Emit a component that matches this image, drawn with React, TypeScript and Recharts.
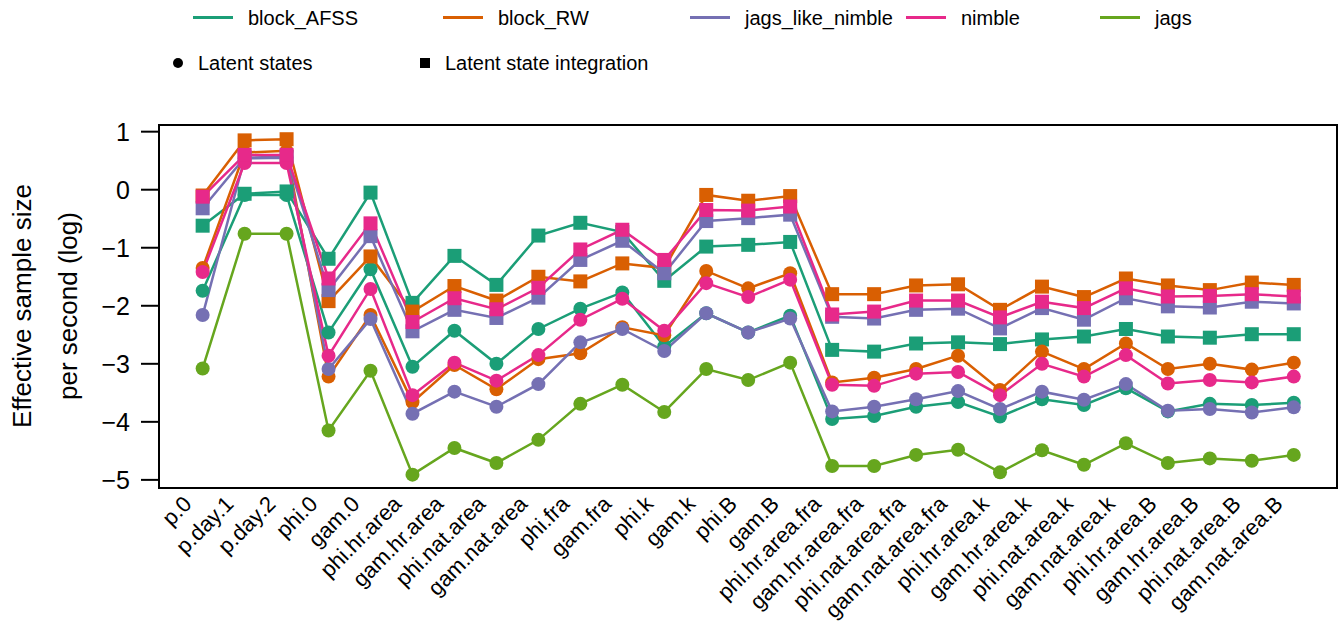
import React from 'react';
import { LineChart, Line, XAxis, YAxis, ReferenceArea } from 'recharts';

// parameters on the x axis
const categories = [
  'p.0', 'p.day.1', 'p.day.2', 'phi.0', 'gam.0', 'phi.hr.area', 'gam.hr.area',
  'phi.nat.area', 'gam.nat.area', 'phi.fra', 'gam.fra', 'phi.k', 'gam.k', 'phi.B',
  'gam.B', 'phi.hr.area.fra', 'gam.hr.area.fra', 'phi.nat.area.fra', 'gam.nat.area.fra',
  'phi.hr.area.k', 'gam.hr.area.k', 'phi.nat.area.k', 'gam.nat.area.k',
  'phi.hr.area.B', 'gam.hr.area.B', 'phi.nat.area.B', 'gam.nat.area.B',
];

// log ESS per second, "Latent states" (circles)
const afssLatent = [-1.74, -0.09, -0.09, -2.46, -1.37, -3.05, -2.43, -3.0, -2.4, -2.05, -1.77, -2.7, -2.13, -2.46, -2.17, -3.95, -3.9, -3.74, -3.66, -3.91, -3.61, -3.71, -3.42, -3.82, -3.69, -3.71, -3.67];
const rwLatent = [-1.35, 0.64, 0.67, -3.22, -2.16, -3.66, -3.02, -3.44, -2.92, -2.82, -2.37, -2.51, -1.4, -1.7, -1.44, -3.32, -3.24, -3.09, -2.86, -3.45, -2.79, -3.09, -2.65, -3.09, -3.0, -3.1, -2.98];
const jlnLatent = [-2.16, 0.54, 0.55, -3.09, -2.23, -3.86, -3.48, -3.74, -3.35, -2.63, -2.4, -2.78, -2.13, -2.46, -2.22, -3.82, -3.74, -3.61, -3.47, -3.78, -3.48, -3.62, -3.35, -3.81, -3.78, -3.84, -3.75];
const nimbleLatent = [-1.42, 0.46, 0.46, -2.86, -1.71, -3.54, -2.98, -3.29, -2.85, -2.24, -1.88, -2.43, -1.61, -1.85, -1.55, -3.36, -3.38, -3.17, -3.14, -3.54, -3.0, -3.22, -2.85, -3.34, -3.28, -3.32, -3.22];
const jagsLatent = [-3.08, -0.76, -0.76, -4.15, -3.12, -4.91, -4.45, -4.71, -4.31, -3.69, -3.36, -3.83, -3.09, -3.28, -2.98, -4.76, -4.76, -4.57, -4.48, -4.87, -4.49, -4.74, -4.37, -4.71, -4.63, -4.67, -4.57];

// "Latent state integration" (squares)
const afssInteg = [-0.62, -0.07, -0.03, -1.19, -0.05, -1.95, -1.14, -1.64, -0.79, -0.57, -0.73, -1.57, -0.98, -0.95, -0.9, -2.76, -2.79, -2.65, -2.63, -2.66, -2.58, -2.53, -2.4, -2.53, -2.55, -2.49, -2.49];
const rwInteg = [-0.1, 0.85, 0.87, -1.92, -1.15, -2.1, -1.66, -1.91, -1.5, -1.58, -1.27, -1.35, -0.09, -0.19, -0.11, -1.8, -1.8, -1.65, -1.63, -2.07, -1.67, -1.85, -1.53, -1.65, -1.73, -1.6, -1.64];
const jlnInteg = [-0.32, 0.55, 0.57, -1.73, -0.8, -2.44, -2.07, -2.21, -1.86, -1.21, -0.88, -1.44, -0.54, -0.49, -0.43, -2.19, -2.22, -2.07, -2.05, -2.39, -2.04, -2.24, -1.87, -2.01, -2.03, -1.93, -1.96];
const nimbleInteg = [-0.12, 0.6, 0.6, -1.53, -0.58, -2.28, -1.87, -2.06, -1.69, -1.03, -0.69, -1.21, -0.35, -0.36, -0.29, -2.15, -2.1, -1.91, -1.91, -2.2, -1.93, -2.04, -1.7, -1.84, -1.83, -1.8, -1.84];

const yTicks = [-5, -4, -3, -2, -1, 0, 1];

const TEAL = '#1B9E77';
const ORANGE = '#D95F02';
const PURPLE = '#7570B3';
const PINK = '#E7298A';
const GREEN = '#66A61E';

const FONT = '"Liberation Sans", Arial, Helvetica, sans-serif';

const rows = categories.map((name, i) => ({
  x: i,
  name,
  afssL: afssLatent[i],
  afssI: afssInteg[i],
  rwL: rwLatent[i],
  rwI: rwInteg[i],
  jlnL: jlnLatent[i],
  jlnI: jlnInteg[i],
  nimL: nimbleLatent[i],
  nimI: nimbleInteg[i],
  jagsL: jagsLatent[i],
}));

// drawing order as in the original: teal, orange, purple, pink, green
const series = [
  { key: 'afssL', color: TEAL, shape: 'circle' },
  { key: 'afssI', color: TEAL, shape: 'square' },
  { key: 'rwL', color: ORANGE, shape: 'circle' },
  { key: 'rwI', color: ORANGE, shape: 'square' },
  { key: 'jlnL', color: PURPLE, shape: 'circle' },
  { key: 'jlnI', color: PURPLE, shape: 'square' },
  { key: 'nimL', color: PINK, shape: 'circle' },
  { key: 'nimI', color: PINK, shape: 'square' },
  { key: 'jagsL', color: GREEN, shape: 'circle' },
];

const legendLines = [
  { label: 'block_AFSS', color: TEAL, left: 193 },
  { label: 'block_RW', color: ORANGE, left: 443 },
  { label: 'jags_like_nimble', color: PURPLE, left: 690 },
  { label: 'nimble', color: PINK, left: 906 },
  { label: 'jags', color: GREEN, left: 1100 },
];

const makeDot = (key: string, color: string, shape: string) => (props: any) => {
  const { cx, cy, index } = props;
  if (cx == null || cy == null) return <g key={`${key}-${index}`} />;
  if (shape === 'square') {
    return <rect key={`${key}-${index}`} x={cx - 7} y={cy - 7} width={14} height={14} fill={color} />;
  }
  return <circle key={`${key}-${index}`} cx={cx} cy={cy} r={7} fill={color} />;
};

const XTick = (props: any) => {
  const { x, payload } = props;
  const label = categories[payload.value];
  const ax = x - 15;
  const ay = 500;
  return (
    <text
      x={ax}
      y={ay}
      transform={`rotate(-45, ${ax}, ${ay})`}
      textAnchor="end"
      dominantBaseline="central"
      fontSize={22}
      fontFamily={FONT}
      fill="#000"
    >
      {label}
    </text>
  );
};

const App = () => {
  return (
    <div style={{ position: 'absolute', left: 0, top: 0, width: 1343, height: 632, background: '#fff', fontFamily: FONT }}>
      {legendLines.map((l) => (
        <React.Fragment key={l.label}>
          <div style={{ position: 'absolute', left: l.left, top: 16, width: 40, height: 3, background: l.color }} />
          <div style={{ position: 'absolute', left: l.left + 55, top: 5, fontSize: 20, lineHeight: '26px', whiteSpace: 'nowrap' }}>
            {l.label}
          </div>
        </React.Fragment>
      ))}
      <div style={{ position: 'absolute', left: 173, top: 58, width: 10, height: 10, borderRadius: 5, background: '#000' }} />
      <div style={{ position: 'absolute', left: 198, top: 50, fontSize: 20, lineHeight: '26px', whiteSpace: 'nowrap' }}>
        Latent states
      </div>
      <div style={{ position: 'absolute', left: 420, top: 58, width: 10, height: 10, background: '#000' }} />
      <div style={{ position: 'absolute', left: 445, top: 50, fontSize: 20, lineHeight: '26px', whiteSpace: 'nowrap' }}>
        Latent state integration
      </div>

      <div style={{ position: 'absolute', left: 22, top: 306, transform: 'translate(-50%, -50%) rotate(-90deg)', fontSize: 26, whiteSpace: 'nowrap' }}>
        Effective sample size
      </div>
      <div style={{ position: 'absolute', left: 68, top: 306, transform: 'translate(-50%, -50%) rotate(-90deg)', fontSize: 26, whiteSpace: 'nowrap' }}>
        per second (log)
      </div>

      <div style={{ position: 'absolute', left: 0, top: 0 }}>
        <LineChart width={1343} height={632} data={rows} margin={{ top: 125, right: 6, left: 99, bottom: 44 }}>
          <XAxis
            dataKey="x"
            type="number"
            domain={[-1.04, 27.03]}
            allowDataOverflow
            ticks={categories.map((_, i) => i)}
            interval={0}
            tick={<XTick />}
            tickLine={false}
            axisLine={false}
            height={100}
          />
          <YAxis
            type="number"
            domain={[-5.14, 1.115]}
            allowDataOverflow
            ticks={yTicks}
            interval={0}
            width={60}
            axisLine={false}
            tickLine={{ stroke: '#000', strokeWidth: 2 }}
            tickSize={18}
            tickMargin={11}
            tick={{ fill: '#000', fontSize: 25, fontFamily: FONT }}
            tickFormatter={(v: number) => String(v).replace('-', '\u2212')}
          />
          <ReferenceArea
            x1={-1.04}
            x2={27.03}
            y1={-5.14}
            y2={1.115}
            fill="#fff"
            fillOpacity={0}
            stroke="#000"
            strokeWidth={2}
            ifOverflow="visible"
          />
          {series.map((s) => (
            <Line
              key={s.key}
              type="linear"
              dataKey={s.key}
              stroke={s.color}
              strokeWidth={2.5}
              dot={makeDot(s.key, s.color, s.shape)}
              activeDot={false}
              isAnimationActive={false}
            />
          ))}
        </LineChart>
      </div>
    </div>
  );
};

export default App;
